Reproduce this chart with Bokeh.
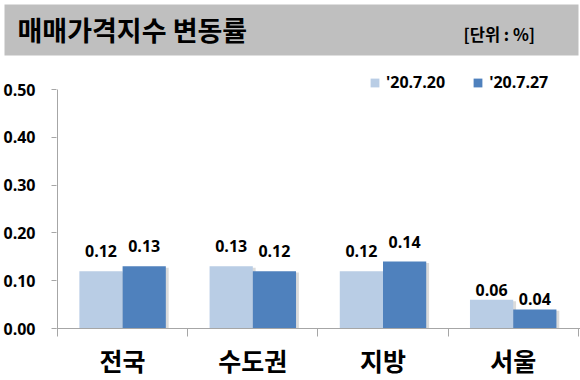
from bokeh.plotting import figure
from bokeh.layouts import column
from bokeh.models import (Range1d, FixedTicker, NumeralTickFormatter, Legend,
                          LegendItem, ColumnDataSource)
from bokeh.core.properties import value
from bokeh.embed import file_html
from bokeh.resources import INLINE

# ---- data ----
categories = ["전국", "수도권", "지방", "서울"]
series_names = ["'20.7.20", "'20.7.27"]
values_0720 = [0.12, 0.13, 0.12, 0.06]
values_0727 = [0.13, 0.12, 0.14, 0.04]
y_ticks = [0.0, 0.1, 0.2, 0.3, 0.4, 0.5]
title_text = "매매가격지수 변동률"
unit_text = "[단위 : %]"

# ---- styles ----
KR_NAME = "Noto Sans CJK KR"
NUM_NAME = "Open Sans"
KR = value(KR_NAME)
NUM = value(NUM_NAME)
LIGHT = "#b9cde5"
DARK = "#4f81bd"
AXIS = "#a6a6a6"
LABEL_GAP_DEFAULT = -14      # px offset of value labels above bars
LABEL_GAP_SPECIAL = {"서울": -4}

W = 580
HEAD_H = 58
CHART_H = 322

# ---- header (title bar) ----
head = figure(width=W, height=HEAD_H, x_range=Range1d(0, W), y_range=Range1d(0, HEAD_H),
              output_backend="svg", toolbar_location=None,
              x_axis_type=None, y_axis_type=None, min_border=0)
head.frame_align = False
head.outline_line_color = None
head.background_fill_color = "white"
head.border_fill_color = "white"
head.quad(left=4, right=578, top=HEAD_H - 4, bottom=HEAD_H - 55, fill_color="#bfbfbf", line_color=None)
head.text(x=[17], y=[HEAD_H - 29], text=[title_text], text_font=KR, text_font_style="bold",
          text_font_size="27px", text_baseline="middle", text_color="#000000")
head.text(x=[463], y=[HEAD_H - 33], text=[unit_text], text_font=KR, text_font_style="bold",
          text_font_size="16.5px", text_baseline="middle", text_color="#000000")

# ---- chart ----
n = len(categories)
xs = [i + 0.5 for i in range(n)]
bar_w = 0.332
cat_px = 130.2          # pixels per category
left_px = 56            # frame left edge
axis_px = 57            # y-axis line position
zero_px = 270           # y=0 position inside chart figure
px_per_unit = 478.0
x_start = -(axis_px - left_px) / cat_px
x_end = (W - axis_px) / cat_px
y_end = 0.5 + 31 / px_per_unit

label_off = [LABEL_GAP_SPECIAL.get(c, LABEL_GAP_DEFAULT) for c in categories]

src = ColumnDataSource(dict(
    x0=[x - bar_w / 2 for x in xs],
    x1=[x + bar_w / 2 for x in xs],
    s0=[x - bar_w / 2 + 0.022 for x in xs],
    s1=[x + bar_w / 2 + 0.022 for x in xs],
    v0=values_0720,
    v1=values_0727,
    sv0=[v - 0.003 for v in values_0720],
    sv1=[v - 0.003 for v in values_0727],
    l0=[f"{v:.2f}" for v in values_0720],
    l1=[f"{v:.2f}" for v in values_0727],
    off=label_off,
))

p = figure(width=W, height=CHART_H, x_range=Range1d(x_start, x_end), y_range=Range1d(0, y_end),
           output_backend="svg", toolbar_location=None,
           min_border_left=left_px, min_border_right=0, min_border_top=0,
           min_border_bottom=CHART_H - zero_px)
p.frame_align = False
p.outline_line_color = None
p.xgrid.visible = False
p.ygrid.visible = False

# y-axis line from 0 to 0.5 only
p.segment(x0=[0], y0=[y_ticks[0]], x1=[0], y1=[y_ticks[-1]], line_color=AXIS, line_width=1)

# shadows
p.vbar(x="s0", top="sv0", width=bar_w, source=src, fill_color="#000000", fill_alpha=0.14, line_color=None)
p.vbar(x="s1", top="sv1", width=bar_w, source=src, fill_color="#000000", fill_alpha=0.14, line_color=None)
r0 = p.vbar(x="x0", top="v0", width=bar_w, source=src, fill_color=LIGHT, line_color=None)
r1 = p.vbar(x="x1", top="v1", width=bar_w, source=src, fill_color=DARK, line_color=None)

for xcol, vcol, lcol in (("x0", "v0", "l0"), ("x1", "v1", "l1")):
    p.text(x=xcol, y=vcol, text=lcol, source=src, text_font=NUM, text_font_style="bold",
           text_font_size="16px", text_align="center", text_baseline="bottom",
           text_color="#000000", y_offset="off")

# y axis
p.yaxis.ticker = FixedTicker(ticks=y_ticks, minor_ticks=[])
p.yaxis.formatter = NumeralTickFormatter(format="0.00")
p.yaxis.axis_line_color = None
p.yaxis.major_tick_line_color = AXIS
p.yaxis.major_tick_out = 5
p.yaxis.major_tick_in = 0
p.yaxis.minor_tick_line_color = None
p.yaxis.major_label_standoff = 16
p.yaxis.major_label_text_font = NUM_NAME
p.yaxis.major_label_text_font_style = "bold"
p.yaxis.major_label_text_font_size = "16px"
p.yaxis.major_label_text_color = "#000000"

# x axis
p.xaxis.ticker = FixedTicker(ticks=xs, minor_ticks=list(range(n + 1)))
p.xaxis.major_label_overrides = {x: c for x, c in zip(xs, categories)}
p.xaxis.axis_line_color = AXIS
p.xaxis.major_tick_line_color = None
p.xaxis.major_tick_out = 0
p.xaxis.major_tick_in = 0
p.xaxis.minor_tick_line_color = AXIS
p.xaxis.minor_tick_out = 8
p.xaxis.minor_tick_in = 0
p.xaxis.major_label_standoff = 5
p.xaxis.major_label_text_font = KR_NAME
p.xaxis.major_label_text_font_style = "bold"
p.xaxis.major_label_text_font_size = "25px"
p.xaxis.major_label_text_color = "#000000"

legend = Legend(items=[LegendItem(label=series_names[0], renderers=[r0]),
                       LegendItem(label=series_names[1], renderers=[r1])],
                location=(369 - left_px, 235), orientation="horizontal",
                glyph_width=11, glyph_height=11, label_standoff=6, spacing=27,
                padding=0, margin=0, border_line_color=None, background_fill_alpha=0,
                label_text_font=NUM_NAME, label_text_font_style="bold",
                label_text_font_size="16px", label_text_color="#000000")
p.add_layout(legend)

layout = column(head, p, spacing=0)
open("out.html", "w").write(file_html(layout, INLINE))
